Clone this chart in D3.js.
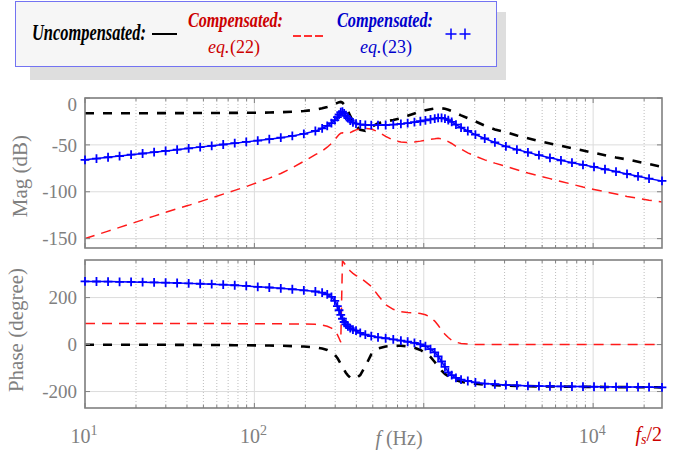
<!DOCTYPE html>
<html>
<head>
<meta charset="utf-8">
<script src="https://cdn.jsdelivr.net/npm/d3@7"></script>
<style>
  body { margin: 0; background: #fff; }
  text { font-family: "Liberation Serif", "Times New Roman", serif; }
</style>
</head>
<body>
<script>
// frequency points (Hz), shared by the three responses
var freq = [10, 11.69, 13.68, 16.0, 18.71, 21.88, 25.59, 29.92, 34.99, 40.93, 47.86, 55.98, 65.46, 76.56, 89.54,
    104.7, 122.5, 143.2, 167.5, 195.9, 229.1,
    251.2, 269.2, 285.1, 298.5, 309.0, 316.2, 323.6, 331.1, 338.8, 346.7,
    356.5, 368.1, 381.9, 398.1, 421.7, 451.9, 489.8, 537.0, 595.7, 660.7,
    732.8, 803.5, 881.0, 955.0, 1023, 1096, 1161, 1216, 1274, 1334,
    1396, 1462, 1549, 1660, 1820, 2018, 2291, 2630, 3055, 3548,
    4121, 4786, 5559, 6457, 7499, 8710, 10116, 11749, 13646, 15849,
    18408, 21380, 25500];

// magnitude (dB)
var magUncomp = [-16.2, -16.2, -16.2, -16.2, -16.2, -16.2, -16.2, -16.1, -16.1, -16.1, -16.0, -16.0, -15.9, -15.9, -15.8,
    -15.7, -15.5, -15.2, -14.7, -13.9, -12.5,
    -11, -9.5, -8, -6.5, -5.2, -4.5, -4.2, -5, -7, -10,
    -14, -19, -25, -30, -34, -35, -31, -27, -25, -23.5,
    -21.5, -19, -16.5, -14.5, -13, -12, -11.3, -11, -11, -11.5,
    -12.5, -14, -16, -18.5, -21.5, -25, -29.5, -33.5, -36.5, -40,
    -43, -46, -48.5, -51, -53.5, -56, -58.5, -61, -63.5, -65.5,
    -68, -70.5, -73.5];
var magEq22 = [-150, -146, -142, -138, -134, -130, -126, -122, -118, -114.5, -110.5, -106.5, -102.5, -98.5, -94.5,
    -90, -85.5, -80.5, -74.5, -67.5, -60.5,
    -56.5, -52.5, -48.5, -44.5, -41, -39, -37.5, -37, -37.5, -38,
    -38, -37, -35.5, -34, -33, -32.5, -33, -36, -41, -45,
    -47, -47.5, -47, -46, -45, -44, -43.5, -43, -43.5, -45,
    -46.5, -48.5, -51.5, -54.5, -58.5, -62, -66, -69.5, -73, -76.5,
    -80, -83, -86, -89, -92, -95, -97.5, -100, -102.5, -105,
    -107, -109, -111];
var magEq23 = [-66, -64.6, -63.2, -61.9, -60.5, -59.2, -57.8, -56.5, -55.1, -53.7, -52.4, -51, -49.6, -48.2, -46.8,
    -45.4, -43.9, -42.3, -40.5, -38.2, -35.2,
    -32.5, -29.8, -26.8, -23.5, -20.5, -17.8, -15, -14.5, -16.5, -19,
    -21.5, -24, -26, -27.3, -28.2, -28.7, -29, -29, -28.8, -28.3,
    -27.6, -26.8, -25.8, -24.8, -23.8, -22.8, -21.9, -21.3, -21.2, -22,
    -23.5, -25.5, -28.3, -31.5, -35.2, -39, -43.2, -47.4, -51.6, -55,
    -58, -61, -63.8, -66.5, -69, -71.3, -73.5, -76, -78.5, -81,
    -83.5, -86, -88.5];

// phase (degree)
var phaseUncomp = [-0.5, -0.5, -0.5, -0.6, -0.7, -0.8, -0.9, -1, -1.2, -1.4, -1.6, -1.9, -2.2, -2.6, -3,
    -3.5, -4.2, -5, -6.5, -8.5, -12,
    -17, -23, -32, -44, -57, -69, -82, -95, -108, -120,
    -131, -141, -146, -144, -130, -92, -42, -17, -8, -5,
    -5, -8, -14, -23, -35, -53, -74, -93, -111, -125,
    -135, -143, -151, -158, -163, -167, -170, -172.5, -174.5, -176,
    -177, -178, -178.5, -179, -179.5, -180, -180, -180.5, -181, -181,
    -181.5, -181.5, -182];
var phaseEq22 = [90, 90, 90, 90, 90, 90, 90, 89.9, 89.9, 89.8, 89.7, 89.6, 89.4, 89.2, 88.9,
    88.7, 88.5, 88.2, 88, 88, 86,
    83, 78, 70, 59, 42, 27, 10, 356, 347, 337,
    325, 313, 303, 294, 284, 268, 248, 210, 170, 150,
    140, 137, 135, 132, 127, 116, 100, 82, 62, 44,
    30, 18, 10, 5, 2, 0.5, 0, 0, 0, 0,
    0, 0, 0, 0, 0, 0, 0, 0, 0, 0,
    0, 0, 0];
var phaseEq23 = [269, 268.5, 268, 267, 266.5, 265.5, 264.5, 263.5, 262, 260.5, 259, 257, 255, 252.5, 249.5,
    246, 243, 239.5, 235.5, 231, 226,
    221, 214, 203, 186, 164, 146, 126, 110, 96, 86,
    78, 70, 64, 59, 50, 42, 36, 31, 27, 22,
    17, 12, 7, 1, -7, -19, -33, -50, -72, -95,
    -118, -130, -142, -149, -155, -161, -166, -169, -172, -174,
    -175.5, -176.5, -177.5, -178, -178.5, -179, -179.5, -180, -180.5, -181,
    -181, -181.5, -182];

var magTicks = [0, -50, -100, -150];
var phaseTicks = [200, 0, -200];
var freqLabels = [{v: 10, e: "1"}, {v: 100, e: "2"}, {v: 10000, e: "4"}];

var gray = "#808080";

var svg = d3.select("body").append("svg")
    .attr("width", 685)
    .attr("height", 457);

var xAxisScale = d3.scaleLog()
    .domain([10, 25500])
    .range([85, 662]);

var magScale = d3.scaleLinear().domain([-160, 0]).range([248, 98]);
var phaseScale = d3.scaleLinear().domain([-270, 360]).range([408, 260]);

var xTicks = xAxisScale.ticks();
function isMajor(t) {
    var l = Math.log10(t);
    return Math.abs(l - Math.round(l)) < 1e-9;
}

function drawPanel(name, yScale, yTicks, series) {
    var x0 = xAxisScale.range()[0], x1 = xAxisScale.range()[1];
    var y0 = yScale.range()[1], y1 = yScale.range()[0];
    var g = svg.append("g").attr("class", name);

    svg.append("clipPath").attr("id", "clip-" + name)
        .append("rect")
        .attr("x", x0).attr("y", y0)
        .attr("width", x1 - x0).attr("height", y1 - y0);

    // grid
    g.selectAll(".vgrid").data(xTicks).enter().append("line")
        .attr("x1", function(d){ return xAxisScale(d); })
        .attr("x2", function(d){ return xAxisScale(d); })
        .attr("y1", y0).attr("y2", y1)
        .attr("stroke", function(d){ return isMajor(d) ? "#dcdcdc" : "#bdbdbd"; })
        .attr("stroke-width", 1)
        .attr("stroke-dasharray", function(d){ return isMajor(d) ? null : "1,2"; });
    g.selectAll(".hgrid").data(yTicks).enter().append("line")
        .attr("x1", x0).attr("x2", x1)
        .attr("y1", function(d){ return yScale(d); })
        .attr("y2", function(d){ return yScale(d); })
        .attr("stroke", "#dcdcdc")
        .attr("stroke-width", 1);

    var body = g.append("g").attr("clip-path", "url(#clip-" + name + ")");
    var line = d3.line()
        .x(function(d, i){ return xAxisScale(freq[i]); })
        .y(function(d){ return yScale(d); });

    body.append("path").datum(series[0])
        .attr("d", line).attr("fill", "none")
        .attr("stroke", "#000").attr("stroke-width", 2.6)
        .attr("stroke-dasharray", "9,9");
    body.append("path").datum(series[1])
        .attr("d", line).attr("fill", "none")
        .attr("stroke", "#ff1a1a").attr("stroke-width", 1.5)
        .attr("stroke-dasharray", "10,7");
    body.append("path").datum(series[2])
        .attr("d", line).attr("fill", "none")
        .attr("stroke", "#0000ff").attr("stroke-width", 1.5);

    // ticks on all four sides
    var ticks = g.append("g").attr("stroke", gray).attr("stroke-width", 1);
    xTicks.forEach(function(t){
        var len = isMajor(t) ? 5 : 3;
        var xx = xAxisScale(t);
        ticks.append("line").attr("x1", xx).attr("x2", xx).attr("y1", y1).attr("y2", y1 - len);
        ticks.append("line").attr("x1", xx).attr("x2", xx).attr("y1", y0).attr("y2", y0 + len);
    });
    yTicks.forEach(function(t){
        var yy = yScale(t);
        ticks.append("line").attr("x1", x0).attr("x2", x0 + 5).attr("y1", yy).attr("y2", yy);
        ticks.append("line").attr("x1", x1).attr("x2", x1 - 5).attr("y1", yy).attr("y2", yy);
    });

    g.append("rect")
        .attr("x", x0).attr("y", y0)
        .attr("width", x1 - x0).attr("height", y1 - y0)
        .attr("fill", "none").attr("stroke", gray).attr("stroke-width", 1.6);

    // blue "+" markers
    g.selectAll(".mark").data(series[2]).enter().append("path")
        .attr("transform", function(d, i){ return "translate(" + xAxisScale(freq[i]) + "," + yScale(d) + ")"; })
        .attr("d", "M-4.4,0H4.4M0,-4.4V4.4")
        .attr("stroke", "#0000ff").attr("stroke-width", 1.8);

    // y tick labels
    g.selectAll(".ylab").data(yTicks).enter().append("text")
        .attr("x", 77)
        .attr("y", function(d){ return Math.max(yScale(d), y0 + 6); })
        .attr("dy", "0.35em")
        .attr("text-anchor", "end")
        .attr("font-size", 19)
        .attr("fill", gray)
        .text(function(d){ return d < 0 ? "-" + Math.abs(d) : d; });
    return g;
}

drawPanel("mag", magScale, magTicks, [magUncomp, magEq22, magEq23]);
drawPanel("phase", phaseScale, phaseTicks, [phaseUncomp, phaseEq22, phaseEq23]);

// axis titles
svg.append("text")
    .attr("transform", "translate(27," + (magScale(-80) + 3) + ") rotate(-90)")
    .attr("text-anchor", "middle").attr("font-size", 21).attr("fill", gray)
    .text("Mag (dB)");
svg.append("text")
    .attr("transform", "translate(23," + (phaseScale(45) - 4) + ") rotate(-90)")
    .attr("text-anchor", "middle").attr("font-size", 21).attr("fill", gray)
    .text("Phase (degree)");

// x tick labels (10^n)
freqLabels.forEach(function(f){
    var t = svg.append("text")
        .attr("x", xAxisScale(f.v) - 1)
        .attr("y", 443)
        .attr("text-anchor", "middle")
        .attr("font-size", 20)
        .attr("fill", gray);
    t.append("tspan").text("10");
    t.append("tspan").attr("dy", -8).attr("font-size", 14).text(f.e);
});

var xl = svg.append("text")
    .attr("x", 399).attr("y", 445)
    .attr("text-anchor", "middle")
    .attr("font-size", 20).attr("fill", gray);
xl.append("tspan").attr("font-style", "italic").text("f");
xl.append("tspan").text(" (Hz)");

var fs = svg.append("text")
    .attr("x", 662).attr("y", 441)
    .attr("text-anchor", "end")
    .attr("font-size", 20).attr("fill", "#cc0000");
fs.append("tspan").attr("font-style", "italic").text("f");
fs.append("tspan").attr("font-style", "italic").attr("font-size", 14).attr("dy", 3).text("s");
fs.append("tspan").attr("dy", -3).text("/2");

// legend
var leg = svg.append("g");
leg.append("rect").attr("x", 30).attr("y", 12).attr("width", 476).attr("height", 68).attr("fill", "#dedede");
leg.append("rect").attr("x", 15.5).attr("y", 1.5).attr("width", 481).attr("height", 65)
    .attr("fill", "#f6f6f6").attr("stroke", "#7373f2").attr("stroke-width", 1);

function legText(x, y, str, color, size, len) {
    return leg.append("text")
        .attr("x", x).attr("y", y)
        .attr("font-size", size)
        .attr("fill", color)
        .attr("font-weight", "bold")
        .attr("font-style", "italic")
        .attr("textLength", len)
        .attr("lengthAdjust", "spacingAndGlyphs")
        .text(str);
}
function eqText(x, y, num, color) {
    leg.append("text").attr("x", x).attr("y", y).attr("font-size", 18)
        .attr("fill", color).attr("font-style", "italic").text("eq.");
    leg.append("text").attr("x", x + 22).attr("y", y).attr("font-size", 18)
        .attr("fill", color).text("(" + num + ")");
}
legText(32, 40, "Uncompensated:", "#000", 23, 114);
leg.append("line").attr("x1", 152).attr("x2", 177).attr("y1", 34).attr("y2", 34)
    .attr("stroke", "#000").attr("stroke-width", 2);

legText(188, 27, "Compensated:", "#cc0000", 21, 95);
eqText(208, 53, "22", "#cc0000");
leg.append("line").attr("x1", 293).attr("x2", 324).attr("y1", 36).attr("y2", 36)
    .attr("stroke", "#ff3030").attr("stroke-width", 2).attr("stroke-dasharray", "8,3");

legText(337, 27, "Compensated:", "#0000cc", 21, 96);
eqText(360, 53, "23", "#0000cc");
leg.selectAll(".lm").data([451, 465]).enter().append("path")
    .attr("transform", function(d){ return "translate(" + d + ",34)"; })
    .attr("d", "M-5.5,0H5.5M0,-5.5V5.5")
    .attr("stroke", "#0000ff").attr("stroke-width", 1.5);
</script>
</body>
</html>
